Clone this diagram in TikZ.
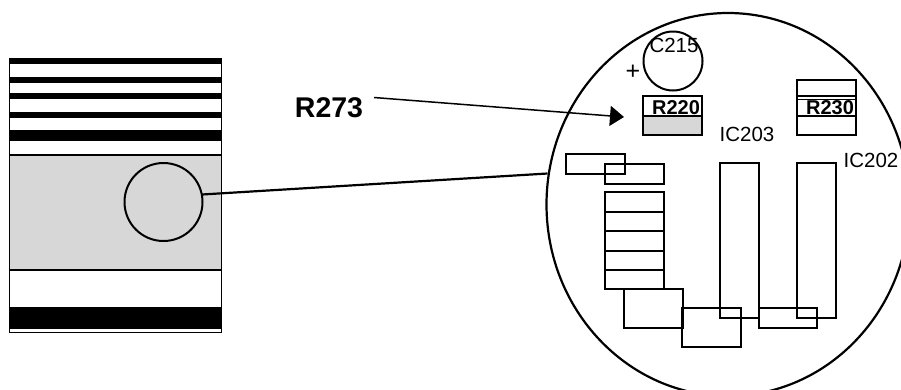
\documentclass[tikz,border=0pt]{standalone}
\usepackage{fontspec}
\setmainfont{Liberation Sans}
\usetikzlibrary{shapes.geometric,arrows.meta}
\definecolor{panelgray}{RGB}{215,215,215}
\tikzset{
  x=1pt,y=-1pt,
  part/.style={draw=black,line width=2pt,line join=miter,fill=none},
  band/.style={fill=black,draw=none},
  lead/.style={draw=black,line width=2.2pt},
  lbl/.style={inner sep=0pt,font=\fontsize{20.5}{20.5}\selectfont},
  lblb/.style={inner sep=0pt,font=\fontsize{20}{20}\selectfont\bfseries},
}
\begin{document}
\begin{tikzpicture}
\useasboundingbox (0,0) rectangle (901,389);
\clip (0,0) rectangle (901,389);
\fill[white] (0,0) rectangle (901,389);
% left device
\fill[panelgray] (10,155) rectangle (221,270);
\foreach \a/\b in {58/63.7,77/82.7,93/99,112/118,130/141,307/329}{\fill[black] (9,\a) rectangle (222,\b);}
\draw[black,line width=1.6pt] (9.5,58) -- (9.5,332.5) -- (221.5,332.5) -- (221.5,58);
\draw[black,line width=1.8pt] (9.5,155) -- (221.5,155) (9.5,270) -- (221.5,270);
\node[circle,draw=black,line width=2pt,minimum size=78pt,inner sep=0pt] (lens) at (163.5,202) {};
% board
\node[ellipse,draw=black,line width=2.2pt,minimum width=363pt,minimum height=383pt,inner sep=0pt] (board) at (728,204.5) {};
\coordinate (boardport) at (547.5,173.5);
\coordinate (lensport) at (202,194.5);
\draw[lead] (lensport) -- (boardport);
% capacitor
\node[circle,draw=black,line width=2pt,minimum size=59pt,inner sep=0pt] (cap) at (673,61) {};
\node[lbl] (capname) at (674,45) {C215};
\node[inner sep=0pt,font=\fontsize{25}{25}\selectfont] (plus) at (633,72) {+};
% resistors
\fill[panelgray] (643,116) rectangle (702,135);
\draw[part] (643,96) rectangle (702,135);
\node[lblb] (rleft) at (676,107.5) {R220};
\draw[part] (643,116) -- (702,116);
\draw[part] (797,80) rectangle (856,135);
\draw[black,line width=1.6pt] (797,96) -- (856,96);
\draw[black,line width=1.6pt] (797,99.5) -- (856,99.5);
\node[lblb] (rright) at (830,107.5) {R230};
\draw[black,line width=1.8pt] (797,116) -- (856,116);
% small parts
\draw[part] (566,154) rectangle (625,174);
\draw[part] (605,164) rectangle (664,184);
\draw[part] (605,192) rectangle (664,289);
\foreach \y in {211.7,231,250.5,270}{\draw[part] (605,\y) -- (664,\y);}
\draw[part] (624,289) rectangle (683,328);
\draw[part] (682,308) rectangle (740.5,347);
\draw[part] (759,308) rectangle (817,328);
\draw[part] (720,163) rectangle (759,318);
\draw[part] (797,163) rectangle (836,318);
\node[lbl] (ica) at (747,134) {IC203};
\node[lbl] (icb) at (871,160) {IC202};
% callout
\node[inner sep=0pt,font=\fontsize{28.5}{28.5}\selectfont\bfseries] (callout) at (329,108) {R273};
\coordinate (calloutport) at (374,97.5);
\coordinate (calloutend) at (624,117);
\draw[black,line width=1.5pt,-{Triangle[length=14pt,width=20pt]}] (calloutport) -- (calloutend);
\end{tikzpicture}
\end{document}
